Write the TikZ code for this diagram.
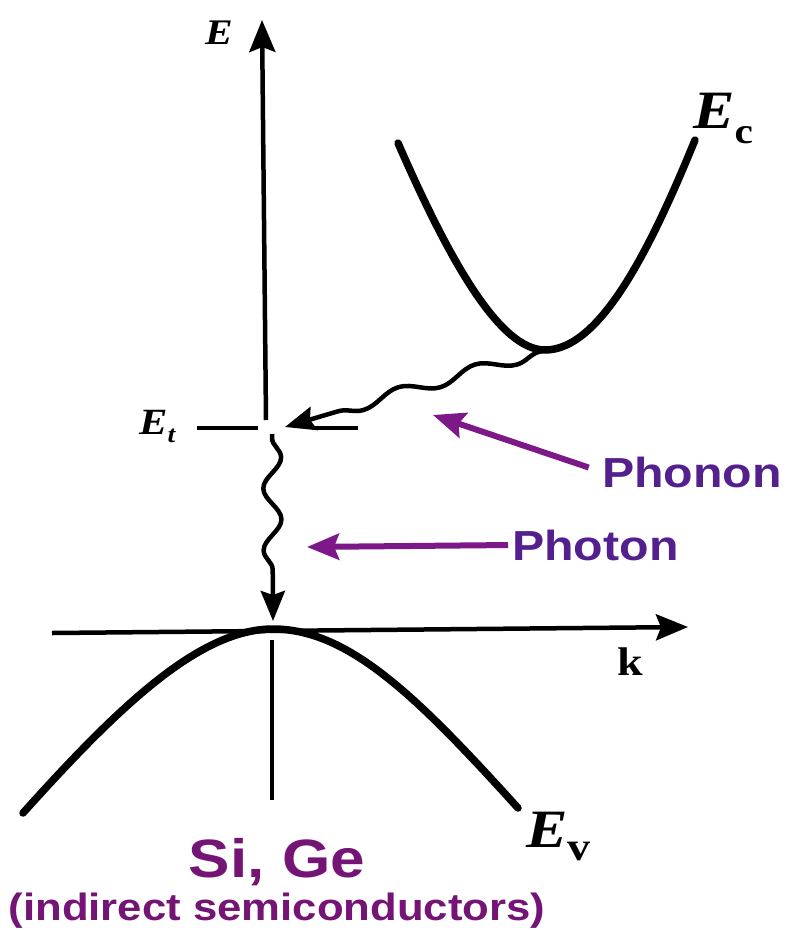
\documentclass[tikz,border=0pt]{standalone}
\usepackage{fontspec}
\setmainfont{Liberation Serif}
\setsansfont{Liberation Sans}
\usetikzlibrary{arrows.meta,decorations.pathmorphing}

\definecolor{phononblue}{RGB}{84,32,142}
\definecolor{arrowpurple}{RGB}{124,24,136}
\definecolor{sigepurple}{RGB}{116,20,116}

\tikzset{
  axisline/.style={line width=4.5pt, -{Stealth[length=32pt,width=26pt,inset=5pt]}},
  bandline/.style={line width=7.5pt, line cap=round},
  trapline/.style={line width=4.5pt},
  wavyline/.style={line width=4.5pt, decorate, -{Stealth[length=30pt,width=24pt,inset=4pt]}},
  pointer/.style={arrowpurple, line width=6pt, -{Stealth[length=32pt,width=26pt,inset=5pt]}},
  symlbl/.style={inner sep=0pt, xscale=1.15},
  purplelbl/.style={inner sep=0pt, xscale=1.15, font=\sffamily\bfseries\fontsize{42}{48}\selectfont}
}

\begin{document}
\begin{tikzpicture}[x=1pt,y=-1pt]
\useasboundingbox (0,0) rectangle (792,932);

% points on the axes and bands
\coordinate (etop) at (262,20);
\coordinate (ebot) at (266,420);
\coordinate (elowtop) at (272,640);
\coordinate (elowbot) at (272,800);
\coordinate (kstart) at (52,633);
\coordinate (kend) at (688,627);
\coordinate (vbmax) at (273,629);
\coordinate (vbleft) at (23,813);
\coordinate (vbright) at (518,808);
\coordinate (cbmin) at (545,350);
\coordinate (cbleft) at (398,143);
\coordinate (cbright) at (695,140);
\coordinate (traptip) at (285,427);
\coordinate (trapbot) at (272,434);
\coordinate (photonend) at (273,621);
\coordinate (phonontip) at (433,415);
\coordinate (photontip) at (307,547);

% axes
\draw [axisline] (ebot) -- (etop);
\draw [line width=4.5pt] (elowtop) -- (elowbot);
\draw [axisline] (kstart) -- (kend);

% trap level
\draw [trapline] (197,428) -- (258,428);
\draw [trapline] (315,428) -- (358,428);

% conduction band
\draw [bandline] (cbleft) .. controls (450,262) and (500,350) .. (cbmin)
  .. controls (600,350) and (650,250) .. (cbright);
% valence band
\draw [bandline] (vbleft) .. controls (120,705) and (200,629) .. (vbmax)
  .. controls (350,629) and (420,700) .. (vbright);

% phonon and photon transitions
\draw [wavyline, decoration={snake, amplitude=6pt, segment length=80pt, pre length=6pt, post length=24pt}] (cbmin) -- (traptip);
\draw [wavyline, decoration={snake, amplitude=9pt, segment length=62pt, pre length=4pt, post length=28pt}] (trapbot) -- (photonend);

% symbols
\node [symlbl, font=\bfseries\itshape\fontsize{36}{36}\selectfont] (elbl) at (219,33) {E};
\node [symlbl, anchor=base west] (etlbl) at (139,434) {\fontsize{37}{37}\selectfont\bfseries\itshape E\raisebox{-8pt}{\fontsize{24}{24}\selectfont t}};
\node [symlbl, anchor=base west] (eclbl) at (693,128) {\fontsize{54}{54}\selectfont\bfseries\itshape E\raisebox{-15pt}{\fontsize{36}{36}\selectfont\upshape c}};
\node [symlbl, anchor=base west] (evlbl) at (526,847) {\fontsize{54}{54}\selectfont\bfseries\itshape E\raisebox{-13pt}{\fontsize{40}{40}\selectfont\upshape v}};
\node [symlbl, anchor=base, font=\bfseries\fontsize{40}{40}\selectfont] (klbl) at (630,675) {k};

% purple labels
\node [purplelbl, phononblue, anchor=base west] (phonon) at (602,487) {Phonon};
\node [purplelbl, phononblue, anchor=base west] (photon) at (512,560) {Photon};
\draw [pointer, shorten <=14pt] (phonon.west) -- (phonontip);
\draw [pointer, shorten <=4pt] (photon.west) -- (photontip);

\node [symlbl, sigepurple, anchor=base, font=\sffamily\bfseries\fontsize{54}{60}\selectfont] (sige) at (277,877) {Si, Ge};
\node [symlbl, sigepurple, anchor=base, font=\sffamily\bfseries\fontsize{38}{44}\selectfont] (kind) at (277,920) {(indirect semiconductors)};
\end{tikzpicture}
\end{document}
